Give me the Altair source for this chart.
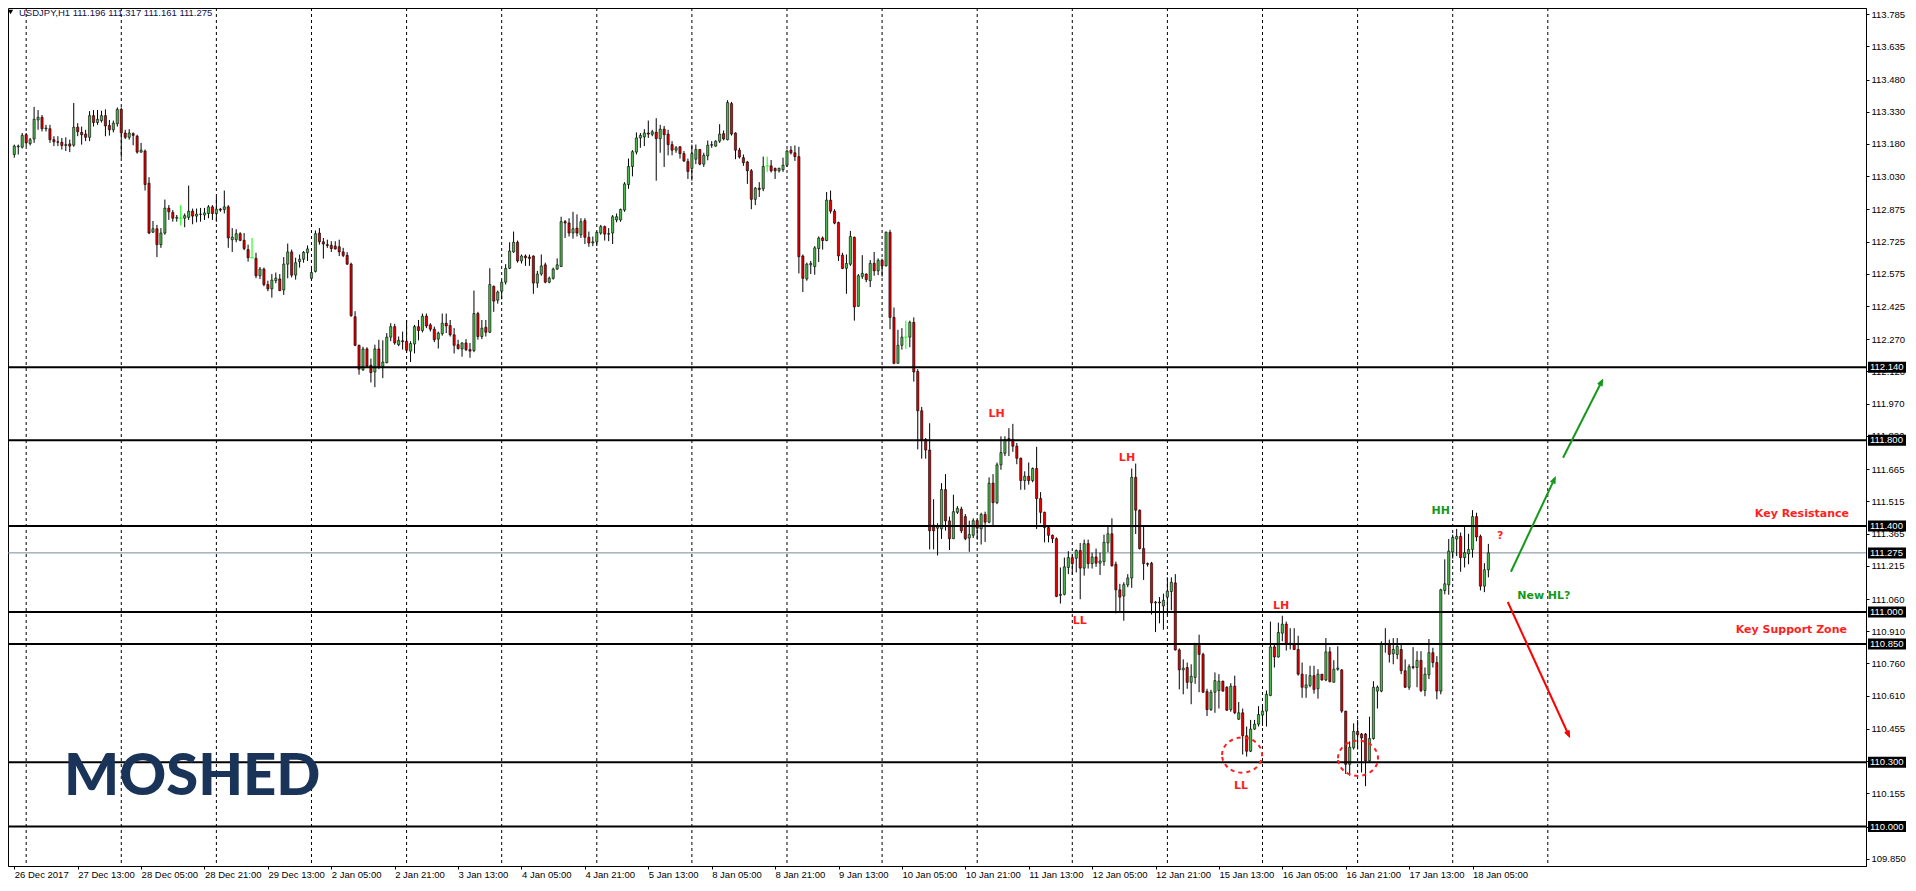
import math
import altair as alt
import pandas as pd

# ---------------- data (USDJPY H1) ----------------
OPEN = [
113.131,113.167,113.165,113.223,113.182,113.203,113.292,113.304,113.251,113.251,
113.200,113.190,113.188,113.173,113.180,113.174,113.258,113.234,113.226,113.211,
113.312,113.280,113.289,113.312,113.266,113.246,113.274,113.341,113.231,113.211,
113.228,113.216,113.142,113.147,112.997,112.769,112.785,112.711,112.765,112.881,
112.861,112.834,112.834,112.834,112.838,112.867,112.844,112.853,112.849,112.856,
112.887,112.856,112.876,112.875,112.887,112.734,112.734,112.762,112.731,112.688,
112.650,112.647,112.566,112.597,112.525,112.505,112.543,112.551,112.500,112.620,
112.677,112.569,112.632,112.643,112.673,112.554,112.586,112.765,112.724,112.711,
112.708,112.704,112.701,112.677,112.661,112.620,112.375,112.242,112.128,112.225,
112.149,112.118,112.225,112.143,112.161,112.280,112.329,112.245,112.263,112.261,
112.215,112.248,112.329,112.311,112.378,112.337,112.317,112.271,112.296,112.345,
112.334,112.291,112.245,112.225,112.253,112.222,112.218,112.390,112.283,112.326,
112.303,112.517,112.452,112.494,112.536,112.601,112.677,112.722,112.635,112.658,
112.653,112.658,112.532,112.574,112.617,112.536,112.554,112.597,112.609,112.818,
112.812,112.765,112.788,112.757,112.823,112.745,112.719,112.724,112.765,112.795,
112.760,112.765,112.826,112.826,112.872,112.991,113.075,113.142,113.208,113.213,
113.231,113.225,113.235,113.205,113.249,113.226,113.177,113.151,113.167,113.135,
113.098,113.066,113.109,113.154,113.086,113.124,113.174,113.170,113.193,113.228,
113.200,113.368,113.231,113.151,113.116,113.096,113.055,112.922,112.974,112.971,
113.078,113.078,113.066,113.055,113.060,113.081,113.151,113.139,113.121,112.658,
112.551,112.617,112.609,112.693,112.742,112.730,112.918,112.867,112.814,112.662,
112.601,112.620,112.745,112.424,112.563,112.574,112.543,112.624,112.589,112.638,
112.612,112.768,112.372,112.158,112.242,112.280,112.280,112.349,112.120,111.937,
111.803,111.754,111.405,111.390,111.387,111.570,111.424,111.341,111.464,111.479,
111.444,111.344,111.357,111.425,111.387,111.454,111.418,111.600,111.509,111.685,
111.739,111.807,111.803,111.772,111.716,111.612,111.632,111.612,111.668,111.528,
111.464,111.393,111.357,111.341,111.077,111.082,111.207,111.253,111.250,111.286,
111.204,111.318,111.225,111.256,111.227,111.234,111.321,111.364,111.222,111.103,
111.074,111.126,111.158,111.627,111.474,111.295,111.225,111.227,111.042,111.046,
111.028,111.069,111.095,111.135,110.823,110.730,110.741,110.672,110.695,110.851,
110.802,110.629,110.545,110.626,110.634,110.677,110.649,110.545,110.654,110.500,
110.530,110.423,110.351,110.454,110.477,110.519,110.538,110.611,110.837,110.790,
110.901,110.943,110.854,110.851,110.825,110.710,110.646,110.657,110.703,110.642,
110.710,110.683,110.814,110.672,110.733,110.730,110.538,110.290,110.367,110.443,
110.431,110.431,110.306,110.410,110.631,110.631,110.852,110.851,110.805,110.802,
110.825,110.726,110.649,110.745,110.741,110.774,110.634,110.707,110.810,110.764,
110.631,111.100,111.126,111.279,111.340,111.352,111.253,111.271,111.291,111.444,
111.352,111.120,111.196]
HIGH = [
113.177,113.177,113.231,113.231,113.208,113.353,113.338,113.315,113.269,113.269,
113.216,113.216,113.208,113.211,113.200,113.371,113.277,113.261,113.246,113.333,
113.338,113.338,113.335,113.341,113.292,113.289,113.350,113.350,113.246,113.249,
113.234,113.223,113.185,113.154,113.025,112.821,112.803,112.788,112.921,112.895,
112.872,112.849,112.895,112.856,112.986,112.879,112.879,112.882,112.882,112.895,
112.895,112.933,112.882,112.963,112.895,112.788,112.783,112.769,112.765,112.711,
112.742,112.673,112.607,112.604,112.543,112.574,112.581,112.574,112.653,112.716,
112.688,112.650,112.665,112.681,112.707,112.612,112.777,112.788,112.742,112.734,
112.727,112.727,112.734,112.696,112.676,112.627,112.401,112.245,112.235,112.233,
112.180,112.245,112.268,112.265,112.299,112.345,112.342,112.283,112.306,112.360,
112.261,112.337,112.360,112.390,112.390,112.345,112.329,112.306,112.390,112.390,
112.360,112.322,112.268,112.256,112.271,112.253,112.497,112.398,112.360,112.360,
112.601,112.520,112.497,112.543,112.620,112.722,112.772,112.730,112.665,112.665,
112.665,112.661,112.589,112.665,112.627,112.562,112.604,112.647,112.841,112.826,
112.834,112.864,112.852,112.834,112.834,112.772,112.749,112.772,112.803,112.800,
112.788,112.849,112.856,112.879,113.002,113.112,113.151,113.234,113.231,113.249,
113.289,113.246,113.300,113.269,113.264,113.246,113.193,113.170,113.170,113.147,
113.112,113.177,113.177,113.157,113.139,113.196,113.193,113.197,113.272,113.243,
113.384,113.376,113.234,113.162,113.131,113.101,113.063,112.979,113.002,113.121,
113.121,113.105,113.070,113.070,113.116,113.154,113.170,113.173,113.167,112.665,
112.627,112.635,112.704,112.749,112.749,112.956,112.963,112.876,112.818,112.673,
112.665,112.775,112.749,112.574,112.662,112.577,112.639,112.677,112.647,112.646,
112.772,112.780,112.418,112.314,112.322,112.357,112.357,112.372,112.131,111.955,
111.810,111.879,111.525,111.413,111.600,111.642,111.444,111.546,111.493,111.490,
111.456,111.425,111.436,111.431,111.462,111.467,111.627,111.642,111.696,111.818,
111.818,111.856,111.876,111.787,111.719,111.655,111.696,111.673,111.769,111.558,
111.467,111.398,111.360,111.347,111.207,111.253,111.283,111.268,111.291,111.321,
111.337,111.337,111.276,111.295,111.276,111.360,111.402,111.436,111.234,111.131,
111.138,111.176,111.668,111.691,111.477,111.405,111.230,111.233,111.051,111.069,
111.085,111.161,111.161,111.176,110.830,110.779,110.764,110.756,110.856,110.894,
110.810,110.642,110.637,110.718,110.710,110.680,110.654,110.668,110.703,110.580,
110.550,110.466,110.497,110.497,110.561,110.565,110.634,110.955,110.848,110.950,
110.982,110.955,110.924,110.924,110.889,110.764,110.710,110.749,110.749,110.733,
110.710,110.878,110.836,110.775,110.840,110.733,110.539,110.397,110.481,110.497,
110.436,110.436,110.512,110.677,110.657,110.863,110.924,110.871,110.878,110.878,
110.848,110.779,110.756,110.836,110.817,110.817,110.741,110.874,110.833,110.794,
111.108,111.245,111.340,111.360,111.387,111.370,111.398,111.364,111.474,111.462,
111.360,111.227,111.317]
LOW = [
113.116,113.131,113.159,113.170,113.173,113.185,113.246,113.238,113.238,113.185,
113.170,113.170,113.154,113.147,113.142,113.167,113.216,113.177,113.193,113.193,
113.261,113.269,113.280,113.216,113.219,113.234,113.261,113.116,113.203,113.200,
113.174,113.135,113.139,112.963,112.760,112.765,112.653,112.696,112.757,112.826,
112.818,112.818,112.800,112.792,112.826,112.806,112.815,112.818,112.826,112.834,
112.826,112.818,112.864,112.856,112.696,112.677,112.722,112.727,112.685,112.632,
112.647,112.555,112.551,112.517,112.494,112.464,112.531,112.494,112.477,112.554,
112.558,112.548,112.604,112.627,112.635,112.543,112.581,112.711,112.646,112.696,
112.677,112.688,112.658,112.653,112.617,112.375,112.238,112.105,112.123,112.138,
112.069,112.047,112.131,112.089,112.158,112.261,112.245,112.238,112.222,112.207,
112.164,112.204,112.265,112.302,112.322,112.306,112.257,112.227,112.287,112.299,
112.283,112.204,112.222,112.189,112.215,112.184,112.210,112.268,112.271,112.283,
112.299,112.398,112.436,112.456,112.525,112.597,112.673,112.627,112.623,112.612,
112.612,112.482,112.510,112.566,112.531,112.531,112.548,112.594,112.607,112.742,
112.749,112.739,112.749,112.742,112.714,112.701,112.704,112.704,112.757,112.730,
112.727,112.714,112.815,112.818,112.864,112.971,113.029,113.131,113.162,113.170,
113.208,113.216,113.009,113.139,113.073,113.127,113.127,113.139,113.112,113.096,
113.017,113.009,113.086,113.081,113.073,113.104,113.162,113.167,113.185,113.197,
113.197,113.219,113.109,113.112,113.078,112.994,112.876,112.895,112.933,112.960,
113.050,113.047,113.017,113.047,113.050,113.073,113.131,113.101,112.577,112.490,
112.543,112.574,112.571,112.630,112.688,112.727,112.856,112.806,112.635,112.597,
112.482,112.612,112.357,112.421,112.551,112.536,112.513,112.566,112.569,112.562,
112.609,112.317,112.154,112.158,112.222,112.225,112.233,112.073,111.757,111.714,
111.714,111.291,111.291,111.263,111.340,111.379,111.288,111.340,111.456,111.367,
111.334,111.280,111.344,111.337,111.314,111.326,111.413,111.405,111.502,111.662,
111.726,111.726,111.746,111.688,111.569,111.569,111.593,111.604,111.386,111.413,
111.324,111.324,111.321,111.069,111.039,111.077,111.176,111.172,111.184,111.059,
111.169,111.202,111.202,111.210,111.172,111.215,111.279,111.211,110.993,111.001,
110.959,111.115,111.112,111.363,111.291,111.149,111.211,110.988,110.906,110.947,
110.917,110.985,111.008,110.820,110.639,110.616,110.642,110.570,110.665,110.626,
110.622,110.515,110.539,110.530,110.550,110.629,110.539,110.535,110.524,110.497,
110.336,110.326,110.347,110.451,110.466,110.469,110.466,110.607,110.741,110.787,
110.863,110.820,110.825,110.822,110.703,110.600,110.600,110.649,110.619,110.596,
110.680,110.677,110.672,110.672,110.726,110.530,110.245,110.237,110.359,110.359,
110.252,110.188,110.301,110.405,110.550,110.626,110.810,110.764,110.756,110.780,
110.710,110.646,110.637,110.733,110.649,110.626,110.607,110.687,110.741,110.593,
110.616,111.082,111.080,111.248,111.260,111.187,111.207,111.222,111.253,111.329,
111.100,111.092,111.161]
CLOSE = [
113.170,113.170,113.220,113.185,113.200,113.295,113.304,113.251,113.254,113.200,
113.190,113.188,113.173,113.177,113.170,113.258,113.237,113.223,113.211,113.312,
113.280,113.295,113.312,113.264,113.246,113.277,113.341,113.231,113.211,113.231,
113.220,113.142,113.151,112.991,112.765,112.785,112.711,112.765,112.881,112.864,
112.834,112.838,112.834,112.846,112.867,112.844,112.853,112.852,112.859,112.887,
112.856,112.876,112.872,112.887,112.742,112.746,112.762,112.731,112.693,112.650,
112.650,112.566,112.597,112.525,112.505,112.546,112.555,112.497,112.620,112.677,
112.569,112.627,112.643,112.675,112.691,112.581,112.762,112.724,112.714,112.707,
112.693,112.691,112.677,112.661,112.620,112.380,112.242,112.131,112.225,112.146,
112.115,112.225,112.143,112.164,112.280,112.329,112.253,112.265,112.259,112.219,
112.250,112.329,112.311,112.378,112.332,112.317,112.268,112.299,112.345,112.332,
112.291,112.242,112.227,112.253,112.222,112.215,112.390,112.283,112.322,112.303,
112.525,112.448,112.490,112.536,112.600,112.681,112.722,112.635,112.658,112.650,
112.647,112.532,112.574,112.612,112.536,112.555,112.597,112.617,112.818,112.812,
112.765,112.785,112.765,112.818,112.745,112.719,112.724,112.768,112.795,112.760,
112.762,112.841,112.841,112.875,112.994,113.075,113.144,113.208,113.220,113.231,
113.226,113.237,113.205,113.249,113.223,113.177,113.151,113.162,113.135,113.101,
113.052,113.135,113.154,113.086,113.127,113.174,113.177,113.193,113.226,113.203,
113.373,113.226,113.151,113.119,113.093,113.055,112.922,112.974,112.968,113.075,
113.078,113.055,113.055,113.066,113.081,113.147,113.139,113.121,112.655,112.554,
112.620,112.623,112.696,112.742,112.730,112.918,112.867,112.811,112.658,112.600,
112.623,112.749,112.421,112.566,112.577,112.548,112.624,112.589,112.638,112.612,
112.769,112.372,112.158,112.242,112.280,112.280,112.349,112.118,111.937,111.803,
111.754,111.378,111.378,111.402,111.570,111.424,111.341,111.467,111.482,111.378,
111.341,111.360,111.425,111.390,111.454,111.418,111.600,111.509,111.685,111.742,
111.803,111.800,111.772,111.716,111.612,111.632,111.612,111.668,111.528,111.464,
111.393,111.357,111.341,111.072,111.082,111.210,111.253,111.225,111.286,111.204,
111.318,111.225,111.256,111.227,111.237,111.324,111.364,111.215,111.103,111.069,
111.127,111.158,111.627,111.474,111.295,111.225,111.222,111.042,111.046,111.042,
111.054,111.097,111.138,110.823,110.730,110.738,110.672,110.700,110.851,110.802,
110.626,110.545,110.626,110.680,110.677,110.631,110.542,110.654,110.530,110.530,
110.423,110.351,110.454,110.477,110.522,110.538,110.616,110.837,110.790,110.904,
110.943,110.851,110.848,110.825,110.710,110.649,110.660,110.703,110.639,110.710,
110.683,110.814,110.675,110.733,110.738,110.538,110.290,110.370,110.443,110.428,
110.413,110.306,110.410,110.649,110.649,110.852,110.848,110.802,110.825,110.840,
110.726,110.649,110.745,110.741,110.774,110.634,110.710,110.810,110.764,110.631,
111.103,111.131,111.283,111.347,111.352,111.253,111.276,111.291,111.444,111.349,
111.120,111.196,111.275]

X_LABELS = ["26 Dec 2017", "27 Dec 13:00", "28 Dec 05:00", "28 Dec 21:00", "29 Dec 13:00",
            "2 Jan 05:00", "2 Jan 21:00", "3 Jan 13:00", "4 Jan 05:00", "4 Jan 21:00",
            "5 Jan 13:00", "8 Jan 05:00", "8 Jan 21:00", "9 Jan 13:00", "10 Jan 05:00",
            "10 Jan 21:00", "11 Jan 13:00", "12 Jan 05:00", "12 Jan 21:00", "15 Jan 13:00",
            "16 Jan 05:00", "16 Jan 21:00", "17 Jan 13:00", "18 Jan 05:00"]
LABEL_EVERY = 16          # bars between time labels
GRID_BARS = [3 + 24 * k for k in range(17)]

Y_TICKS = [113.785, 113.635, 113.480, 113.330, 113.180, 113.030, 112.875, 112.725,
           112.575, 112.425, 112.270, 112.120, 111.970, 111.820, 111.665, 111.515,
           111.365, 111.215, 111.060, 110.910, 110.760, 110.610, 110.455, 110.305,
           110.155, 110.000, 109.850]
LEVELS = [112.140, 111.800, 111.400, 111.000, 110.850, 110.300, 110.000]
BID = 111.275

NOTE_TEXT = ["LH", "LH", "LL", "LH", "LL", "HH", "?", "New HL?"]
NOTE_BAR = [247.9, 280.8, 268.9, 319.7, 309.6, 360.0, 375.0, 386.0]
NOTE_PRICE = [111.920, 111.719, 110.958, 111.027, 110.191, 111.471, 111.352, 111.073]
NOTE_COLOR = ["red", "red", "red", "red", "red", "green", "red", "green"]

KEY_TEXT = ["Key Resistance", "Key Support Zone"]
KEY_BAR = [463.0, 462.5]
KEY_PRICE = [111.454, 110.917]

RING_BAR = [309.85, 339.1]
RING_PRICE = [110.333, 110.318]

ARROW_COLOR = ["green", "green", "red"]
ARROW_BAR0 = [377.7, 390.85, 376.9]
ARROW_P0 = [111.187, 111.718, 111.046]
ARROW_BAR1 = [388.75, 400.7, 392.35]
ARROW_P1 = [111.622, 112.077, 110.423]

SYMBOL = "USDJPY,H1"

# ---------------- styling ----------------
W, H = 1858, 858
X_DOM = [-0.326, 466.04]
Y_DOM = [109.8396, 113.7901]
RED_TXT = "#ff1e1e"
GREEN_TXT = "#16991a"
PALETTE = {"red": RED_TXT, "green": GREEN_TXT}
ARROW_PALETTE = {"red": "#ff0000", "green": GREEN_TXT}
AX_FONT = "Liberation Sans"
NOTE_FONT = "DejaVu Sans"

xscale = alt.Scale(domain=X_DOM, nice=False, zero=False)
yscale = alt.Scale(domain=Y_DOM, nice=False, zero=False)

label_expr = "[" + ",".join("'%s'" % s for s in X_LABELS) + "][round(datum.value/%d)]" % LABEL_EVERY
xaxis = alt.Axis(values=[LABEL_EVERY * k for k in range(len(X_LABELS))], labelExpr=label_expr,
                 labelAlign="left", labelBaseline="top", labelPadding=0, tickSize=3,
                 tickColor="black", domainColor="black", labelColor="black",
                 labelFont=AX_FONT, labelFontSize=9.5, grid=False, title=None,
                 labelOverlap=False, labelFlush=False)
yaxis = alt.Axis(orient="right", values=Y_TICKS, format=".3f", tickSize=3, labelPadding=2,
                 tickColor="black", domainColor="black", labelColor="black",
                 labelFont=AX_FONT, labelFontSize=9.5, grid=False, title=None,
                 labelOverlap=False, labelFlush=False, labelBaseline="middle")


def X(f):
    return alt.X(f, type="quantitative", scale=xscale, axis=xaxis)


def Y(f):
    return alt.Y(f, type="quantitative", scale=yscale, axis=yaxis)


n = len(CLOSE)
df = pd.DataFrame({"i": list(range(n)), "o": OPEN, "h": HIGH, "l": LOW, "c": CLOSE})
df["kind"] = ["up" if c > o else ("down" if c < o else "doji") for o, c in zip(df.o, df.c)]

grid = alt.Chart(pd.DataFrame({"g": GRID_BARS})).mark_rule(
    color="black", strokeWidth=1, strokeDash=[3, 3]).encode(x=X("g"))

bid_line = alt.Chart(pd.DataFrame({"p": [BID]})).mark_rule(
    color="#778899", strokeWidth=1).encode(y=Y("p"))

wicks = alt.Chart(df).mark_rule(strokeWidth=1).encode(
    x=X("i"), y=Y("l"), y2="h",
    color=alt.Color("kind:N", scale=alt.Scale(domain=["up", "down", "doji"],
                                              range=["black", "black", "#00ff00"]), legend=None))

bodies = alt.Chart(df[df.kind != "doji"]).mark_bar(
    orient="vertical", size=2.2, stroke="black", strokeWidth=0.6).encode(
    x=X("i"), y=Y("o"), y2="c",
    fill=alt.Fill("kind:N", scale=alt.Scale(domain=["up", "down"], range=["#4cb84c", "#e00000"]),
                  legend=None))

dojis = alt.Chart(df[df.kind == "doji"]).mark_tick(
    orient="horizontal", size=4, thickness=1, color="#00ff00").encode(x=X("i"), y=Y("c"))

levels = alt.Chart(pd.DataFrame({"p": LEVELS})).mark_rule(
    color="black", strokeWidth=2).encode(y=Y("p"))

notes_df = pd.DataFrame({"t": NOTE_TEXT, "b": NOTE_BAR, "p": NOTE_PRICE,
                         "col": [PALETTE[c] for c in NOTE_COLOR]})
notes = alt.Chart(notes_df).mark_text(font=NOTE_FONT, fontWeight="bold", fontSize=11,
                                      align="center", baseline="middle").encode(
    x=X("b"), y=Y("p"), text="t:N", color=alt.Color("col:N", scale=None))

keys = alt.Chart(pd.DataFrame({"t": KEY_TEXT, "b": KEY_BAR, "p": KEY_PRICE})).mark_text(
    font=NOTE_FONT, fontWeight="bold", fontSize=11, align="right", baseline="middle",
    color=RED_TXT).encode(x=X("b"), y=Y("p"), text="t:N")

ELLIPSE = "M-1,0A1,0.88 0 1,1 1,0A1,0.88 0 1,1 -1,0Z"
rings = alt.Chart(pd.DataFrame({"b": RING_BAR, "p": RING_PRICE})).mark_point(
    shape=ELLIPSE, size=1600, filled=False, stroke="#ff1e1e", strokeWidth=2,
    strokeDash=[4, 4], opacity=1).encode(x=X("b"), y=Y("p"))

px_bar = W / (X_DOM[1] - X_DOM[0])
px_price = H / (Y_DOM[1] - Y_DOM[0])
arr_rows, head_rows = [], []
for k, (col, b0, p0, b1, p1) in enumerate(zip(ARROW_COLOR, ARROW_BAR0, ARROW_P0, ARROW_BAR1, ARROW_P1)):
    c = ARROW_PALETTE[col]
    arr_rows.append({"id": k, "b": b0, "p": p0, "col": c})
    arr_rows.append({"id": k, "b": b1, "p": p1, "col": c})
    ang = math.degrees(math.atan2((b1 - b0) * px_bar, (p1 - p0) * px_price)) % 360
    head_rows.append({"b": b1, "p": p1, "ang": ang, "col": c})

arrows = alt.Chart(pd.DataFrame(arr_rows)).mark_line(strokeWidth=2).encode(
    x=X("b"), y=Y("p"), detail="id:N", color=alt.Color("col:N", scale=None))
HEAD = "M-0.7,1.7L0,0L0.7,1.7"
heads = alt.Chart(pd.DataFrame(head_rows)).mark_point(
    shape=HEAD, size=36, filled=False, strokeWidth=2, opacity=1).encode(
    x=X("b"), y=Y("p"), angle=alt.Angle("ang:Q", scale=None),
    stroke=alt.Stroke("col:N", scale=None))

logo = alt.Chart(pd.DataFrame({"t": ["MOSHED"]})).mark_text(
    font="Lato", fontWeight=900, fontSize=58, color="#1a3459", align="left",
    baseline="middle").encode(x=alt.value(56), y=alt.value(770), text="t:N")

header_txt = "%s  %.3f %.3f %.3f %.3f" % (SYMBOL, OPEN[-1], HIGH[-1], LOW[-1], CLOSE[-1])
header = alt.Chart(pd.DataFrame({"t": [header_txt]})).mark_text(
    font=AX_FONT, fontSize=9.5, color="#10104a", align="left", baseline="middle").encode(
    x=alt.value(11), y=alt.value(4.5), text="t:N")
tri = alt.Chart(pd.DataFrame({"t": [1]})).mark_point(
    shape="triangle-down", filled=True, color="black", size=28, opacity=1).encode(
    x=alt.value(2.5), y=alt.value(4))

box_df = pd.DataFrame({"p": LEVELS + [BID]})
box_df["t"] = ["%.3f" % v for v in box_df.p]
boxes = alt.Chart(box_df).mark_bar(orient="horizontal", size=11, color="black").encode(
    y=Y("p"), x=alt.value(W + 2), x2=alt.value(W + 40))
box_txt = alt.Chart(box_df).mark_text(font=AX_FONT, fontSize=9.5, color="white", align="left",
                                       baseline="middle").encode(
    y=Y("p"), x=alt.value(W + 4), text="t:N")

chart = alt.layer(grid, bid_line, wicks, bodies, dojis, levels, notes, keys, rings, arrows,
                  heads, logo, header, tri, boxes, box_txt).properties(
    width=W, height=H,
    autosize=alt.AutoSizeParams(type="none"),
    padding={"left": 0, "top": 0, "right": 40, "bottom": 12},
    background="white",
).configure_view(stroke="black", strokeWidth=1)

chart.save("out.html", embed_options={"renderer": "svg", "actions": False})
